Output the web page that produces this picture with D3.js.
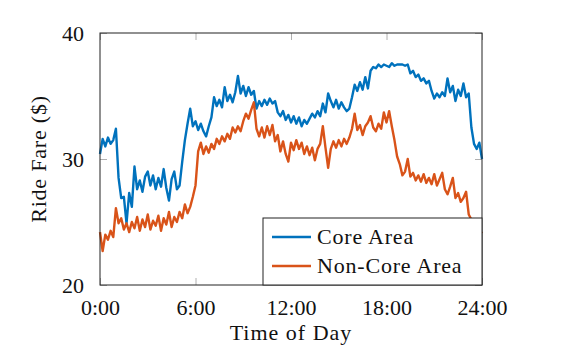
<!DOCTYPE html>
<html>
<head>
<meta charset="utf-8">
<script src="https://cdn.jsdelivr.net/npm/d3@7"></script>
<style>
  body { margin: 0; background: #fff; }
  text { font-family: "Liberation Serif", serif; fill: #111; }
</style>
</head>
<body>
<div id="chart"></div>
<script>
// fares sampled every 10 minutes, 0:00 -> 24:00
const stepMinutes = 10;
const coreArea = [
  30.4, 31.6, 31.0, 31.7, 31.2, 31.5, 32.4, 28.5, 26.9, 27.0, 24.9, 27.3,
  26.2, 29.4, 27.6, 28.3, 27.4, 28.6, 29.0, 27.9, 28.7, 27.6, 28.5, 27.8,
  29.2, 27.7, 26.7, 28.4, 29.0, 27.6, 27.9, 29.8, 31.5, 32.8, 34.0, 32.6,
  33.0, 32.3, 32.8, 32.2, 31.8, 32.6, 33.3, 34.9, 34.2, 34.7, 34.1, 35.7,
  34.6, 35.1, 34.5, 35.3, 36.6, 35.2, 35.8, 35.0, 35.7, 35.1, 35.4, 34.0,
  34.6, 34.2, 34.7, 34.3, 34.8, 34.4, 34.6, 33.7, 33.4, 33.8, 33.1, 33.5,
  32.9, 33.4, 32.8, 33.3, 32.6, 33.1, 32.8, 33.2, 33.6, 33.3, 33.8, 33.4,
  34.4, 33.7, 35.2, 34.6, 34.1, 34.7, 34.0, 34.5, 34.1, 33.8, 34.0, 34.9,
  35.9, 35.4, 36.1, 35.5, 36.5, 35.6, 37.0, 37.3, 37.2, 37.5, 37.3, 37.5,
  37.4, 37.3, 37.6, 37.4, 37.5, 37.5, 37.5, 37.4, 37.5, 36.8, 37.0, 36.5,
  36.7, 36.2, 36.4, 36.0, 36.2, 35.4, 34.8, 35.2, 34.9, 35.3, 35.0, 36.4,
  35.3, 35.8, 34.6, 35.5, 35.0, 36.0, 34.9, 35.2, 32.5, 31.2, 30.8, 31.3,
  30.0
];
const nonCoreArea = [
  24.2, 22.7, 24.0, 23.6, 24.3, 23.8, 26.1, 24.9, 25.3, 24.4, 24.9, 24.2,
  25.0, 24.5, 25.4, 24.3, 25.2, 24.6, 25.6, 24.4, 25.1, 24.7, 25.5, 24.3,
  25.3, 24.8, 25.8, 24.6, 25.4, 25.0, 25.8, 25.3, 26.4, 25.7, 26.2, 27.0,
  27.9, 30.6, 31.3, 30.4, 31.0, 30.5, 31.2, 30.8, 31.6, 31.2, 31.8, 31.4,
  32.0, 31.6, 32.5, 32.1, 32.6, 32.2, 33.0, 33.6, 33.2, 33.9, 34.5, 32.4,
  31.8, 32.5, 31.7, 32.6, 31.9, 32.7, 31.4, 31.9, 30.6, 31.4, 30.4, 29.8,
  31.3, 30.7, 31.5, 30.8, 31.3, 30.4, 31.0, 30.3, 30.9, 29.9, 30.8, 31.2,
  32.6, 30.9, 29.3, 30.8, 31.4, 30.9, 31.5, 31.0, 31.6, 31.2, 31.7, 32.4,
  33.6, 32.3, 32.7, 31.9, 32.6, 32.9, 33.4, 32.5, 32.2, 32.8, 32.4, 33.7,
  32.9, 33.8, 32.6, 31.5, 30.2, 29.6, 28.7, 29.0, 30.0, 28.6, 28.9, 28.3,
  28.7, 28.2, 28.8, 28.1, 28.5, 28.0, 28.8, 27.9, 28.4, 28.9, 27.6, 27.2,
  27.8, 28.5, 26.9, 27.3, 26.6, 26.9, 27.4, 25.6, 25.2, 24.9, 24.6, 24.4,
  24.1
];
const xTicks = [0, 6, 12, 18, 24];
const xTickLabels = ["0:00", "6:00", "12:00", "18:00", "24:00"];
const yTicks = [20, 30, 40];
const seriesNames = ["Core Area", "Non-Core Area"];

const width = 582, height = 352;
const margin = { top: 33, right: 100, bottom: 67, left: 100 };
const innerW = width - margin.left - margin.right,
      innerH = height - margin.top - margin.bottom;

const x = d3.scaleLinear().domain([0, 24]).range([0, innerW]);
const y = d3.scaleLinear().domain([20, 40]).range([innerH, 0]);

const svg = d3.select("#chart")
    .append("svg")
    .attr("width", width)
    .attr("height", height);

const g = svg.append("g")
    .attr("transform", "translate(" + margin.left + "," + margin.top + ")");

// inner gray ticks on all four sides
const tickColor = "#b0b0b0";
const drawAxis = function (axis, tx, ty) {
    const a = g.append("g")
        .attr("transform", "translate(" + tx + "," + ty + ")")
        .call(axis);
    a.select(".domain").remove();
    a.selectAll(".tick line").attr("stroke", tickColor);
    return a;
};

const xAxis = drawAxis(d3.axisBottom(x).tickValues(xTicks).tickSize(-7)
    .tickFormat((d, i) => xTickLabels[i]).tickPadding(14), 0, innerH);
xAxis.selectAll(".tick text")
    .attr("font-size", 22)
    .attr("font-family", "Liberation Serif")
    .attr("fill", "#111");
drawAxis(d3.axisTop(x).tickValues(xTicks).tickSize(-7).tickFormat(""), 0, 0);

const yAxis = drawAxis(d3.axisLeft(y).tickValues(yTicks).tickSize(-7).tickPadding(16), 0, 0);
yAxis.selectAll(".tick text")
    .attr("font-size", 22)
    .attr("font-family", "Liberation Serif")
    .attr("fill", "#111");
drawAxis(d3.axisRight(y).tickValues(yTicks).tickSize(-7).tickFormat(""), innerW, 0);

// the lines
const line = d3.line()
    .x((d, i) => x(i * stepMinutes / 60))
    .y(d => y(d));

const colors = ["#0072BD", "#D95319"];
[coreArea, nonCoreArea].forEach(function (values, k) {
    g.append("path")
        .datum(values)
        .attr("fill", "none")
        .attr("stroke", colors[k])
        .attr("stroke-width", 2.4)
        .attr("stroke-linejoin", "round")
        .attr("d", line);
});

// frame
g.append("rect")
    .attr("width", innerW)
    .attr("height", innerH)
    .attr("fill", "none")
    .attr("stroke", "#222")
    .attr("stroke-width", 1);

// legend, bottom right
const legend = g.append("g")
    .attr("transform", "translate(" + (innerW - 219) + "," + (innerH - 67) + ")");
legend.append("rect")
    .attr("width", 219)
    .attr("height", 67)
    .attr("fill", "#fff")
    .attr("stroke", "#222");
seriesNames.forEach(function (name, k) {
    const ly = 19 + k * 29;
    legend.append("line")
        .attr("x1", 9).attr("x2", 48)
        .attr("y1", ly).attr("y2", ly)
        .attr("stroke", colors[k])
        .attr("stroke-width", 2.4);
    legend.append("text")
        .attr("x", 54)
        .attr("y", ly + 7)
        .attr("font-size", 22)
        .attr("letter-spacing", "0.8px")
        .text(name);
});

// axis titles
svg.append("text")
    .attr("x", margin.left + innerW / 2)
    .attr("y", 340)
    .attr("text-anchor", "middle")
    .attr("font-size", 22)
    .attr("letter-spacing", "1px")
    .text("Time of Day");

svg.append("text")
    .attr("transform", "translate(46," + (margin.top + innerH / 2) + ") rotate(-90)")
    .attr("text-anchor", "middle")
    .attr("font-size", 22)
    .attr("letter-spacing", "0.8px")
    .text("Ride Fare ($)");
</script>
</body>
</html>
